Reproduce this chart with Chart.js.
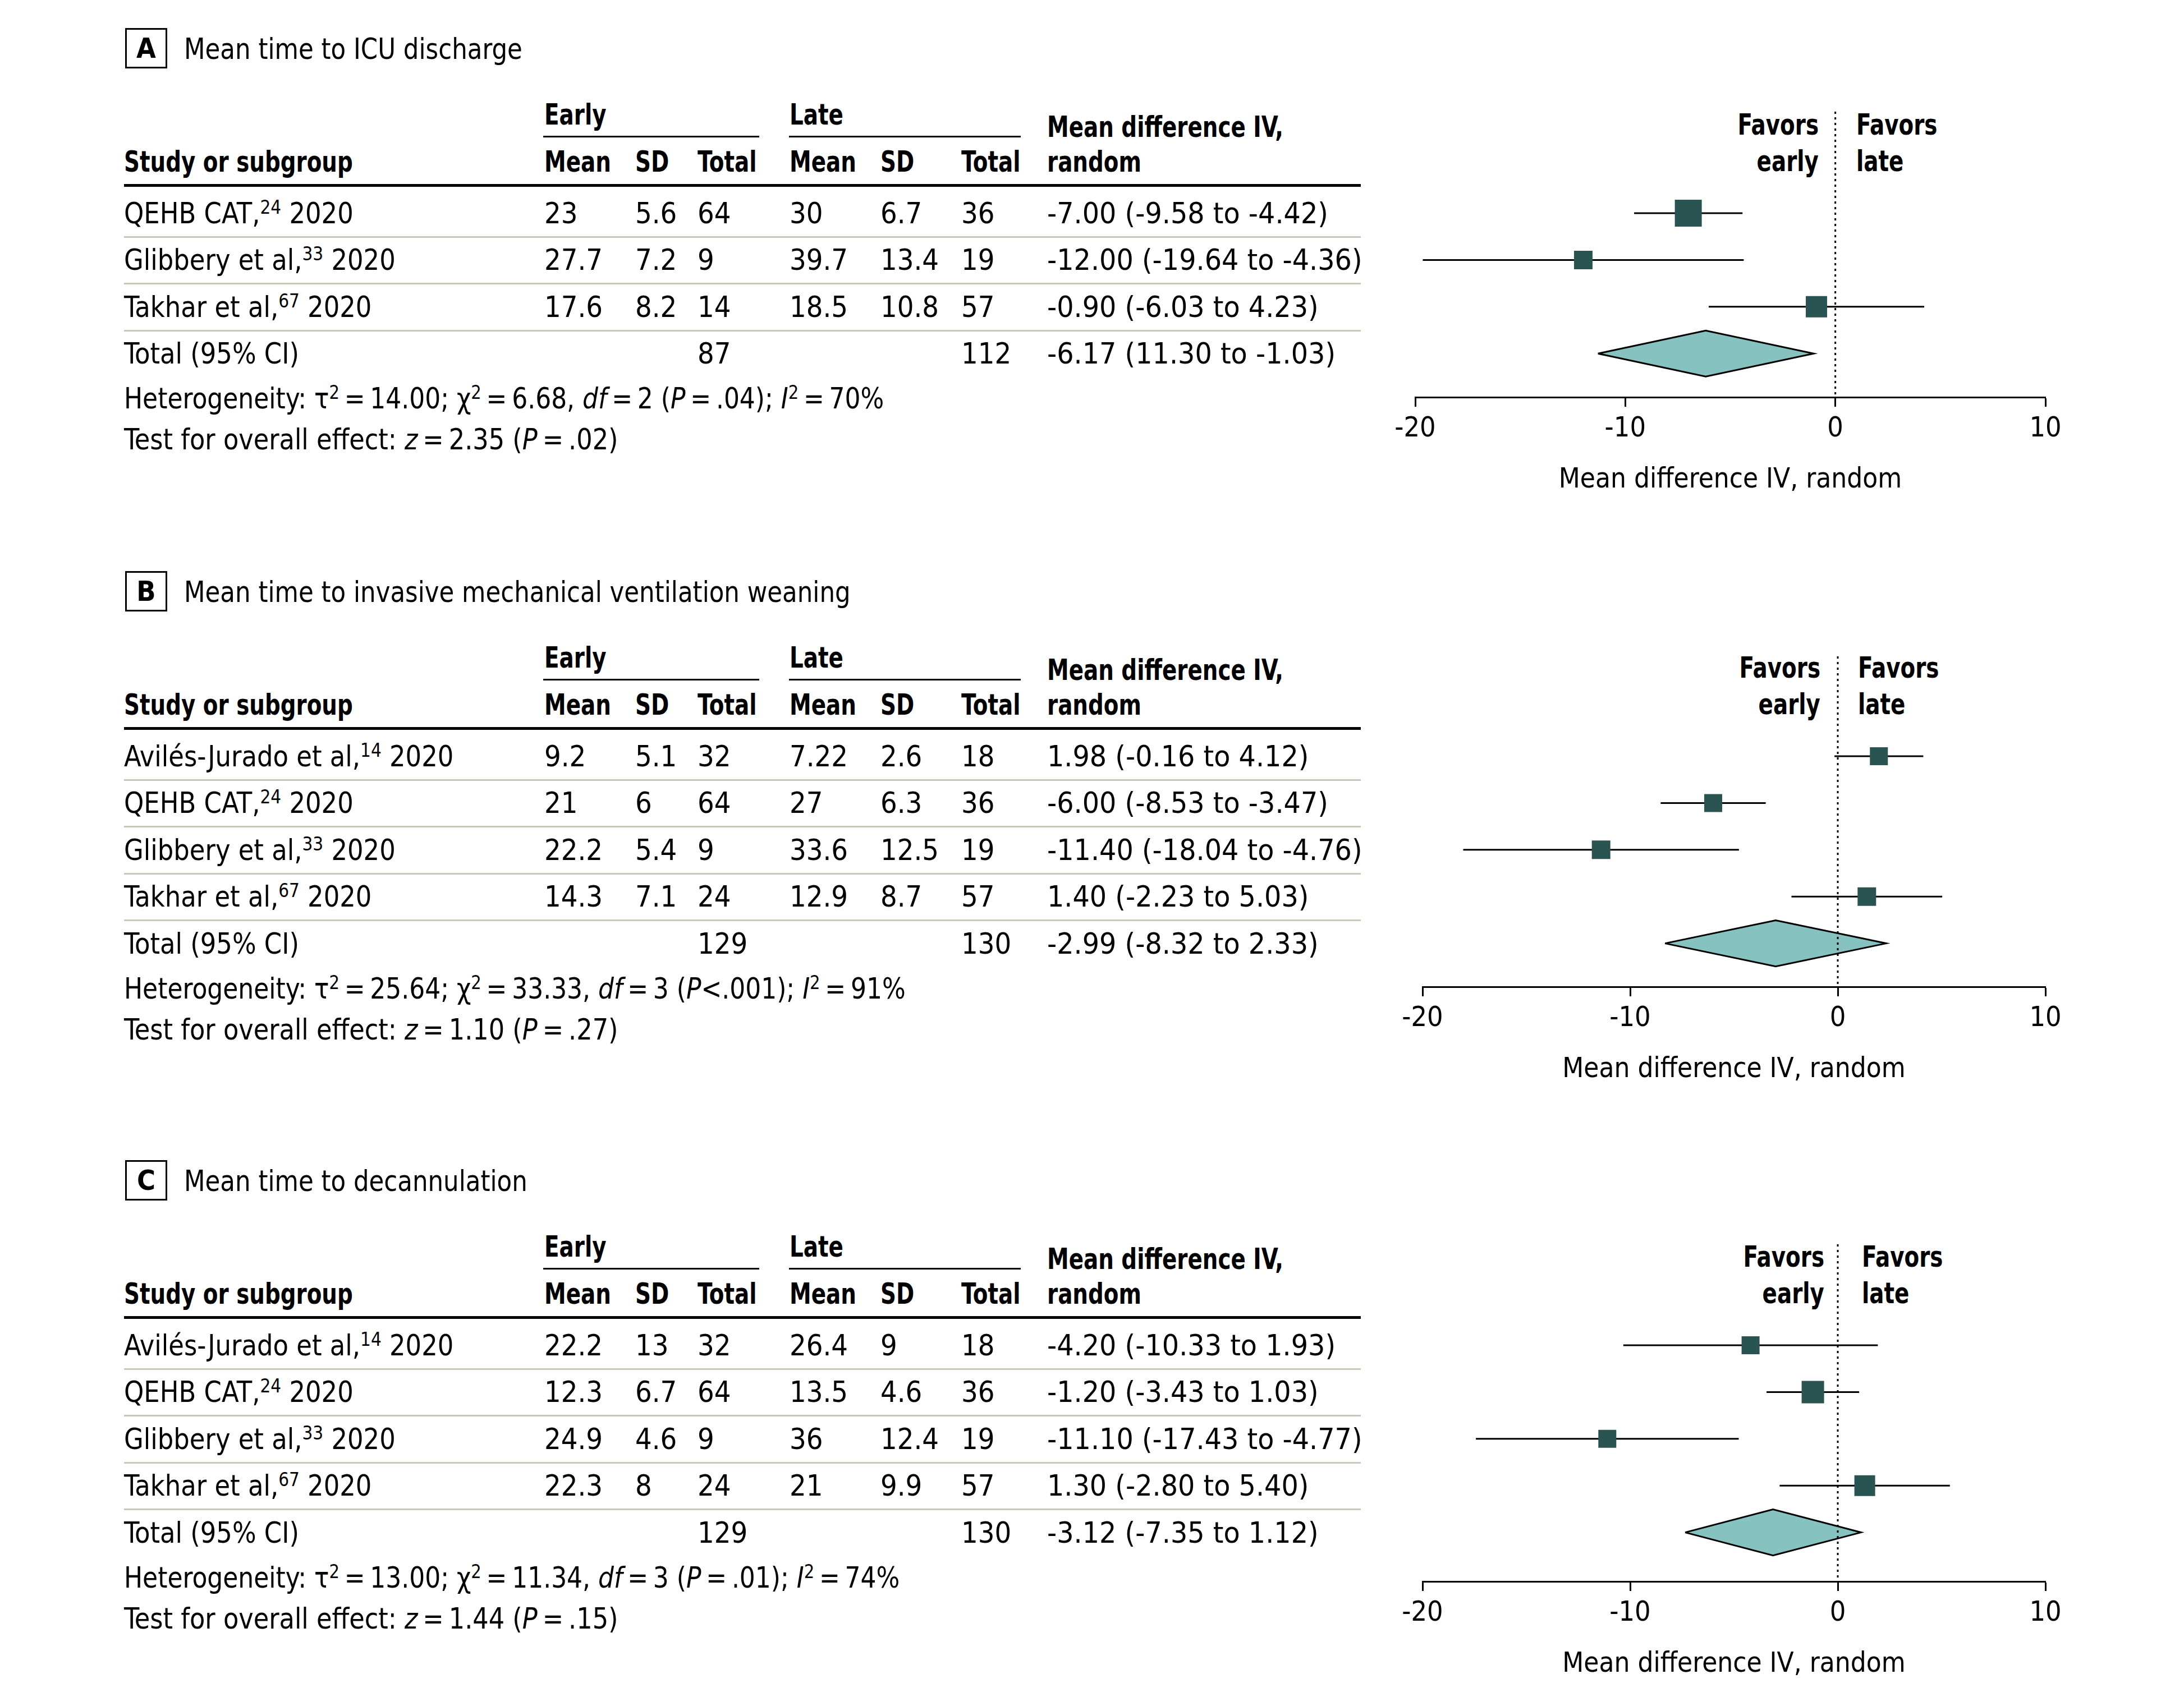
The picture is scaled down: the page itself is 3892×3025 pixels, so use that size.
<!DOCTYPE html>
<html><head><meta charset="utf-8">
<script src="https://cdn.jsdelivr.net/npm/chart.js@4.4.1/dist/chart.umd.min.js"></script>
<style>
html,body{margin:0;padding:0;background:#fff;}
#page{position:relative;width:3892px;height:3025px;background:#fff;overflow:hidden;font-family:"Liberation Sans Narrow","Arial Narrow","DejaVu Sans Condensed",sans-serif;color:#000;}
.t{position:absolute;white-space:nowrap;font-size:52px;line-height:52px;transform-origin:0 50%;}
.t.r{transform-origin:100% 50%;}
.b{font-weight:bold;}
.t sup{font-size:0.66em;vertical-align:0.5em;line-height:0;}
.rule{position:absolute;background:#000;}
.sep{position:absolute;background:#c8cab9;}
.box{position:absolute;border:3px solid #000;box-sizing:border-box;font-weight:bold;font-size:50px;text-align:center;}
canvas{position:absolute;}
</style></head><body><div id="page"></div>
<script>
// ---------------- DATA ----------------
const panelLetters = ['A', 'B', 'C'];
const panelTitles = ['Mean time to ICU discharge', 'Mean time to invasive mechanical ventilation weaning', 'Mean time to decannulation'];
const axisTitle = 'Mean difference IV, random';
const xTicks = [-20, -10, 0, 10];

// Panel A
const studiesA = ['QEHB CAT', 'Glibbery et al', 'Takhar et al'];
const refsA = ['24', '33', '67'];
const yearsA = ['2020', '2020', '2020'];
const earlyMeanA = ['23', '27.7', '17.6'];
const earlySDA = ['5.6', '7.2', '8.2'];
const earlyNA = ['64', '9', '14'];
const lateMeanA = ['30', '39.7', '18.5'];
const lateSDA = ['6.7', '13.4', '10.8'];
const lateNA = ['36', '19', '57'];
const mdA = [-7.00, -12.00, -0.90];
const loA = [-9.58, -19.64, -6.03];
const hiA = [-4.42, -4.36, 4.23];
const totalNA = ['87', '112'];
const totalA = [-6.17, -11.30, -1.03];
const totalLabelA = '-6.17 (11.30 to -1.03)';
const hetA = ['14.00', '6.68', '2', '= .04', '70%'];
const testA = ['2.35', '= .02'];

// Panel B
const studiesB = ['Avilés-Jurado et al', 'QEHB CAT', 'Glibbery et al', 'Takhar et al'];
const refsB = ['14', '24', '33', '67'];
const yearsB = ['2020', '2020', '2020', '2020'];
const earlyMeanB = ['9.2', '21', '22.2', '14.3'];
const earlySDB = ['5.1', '6', '5.4', '7.1'];
const earlyNB = ['32', '64', '9', '24'];
const lateMeanB = ['7.22', '27', '33.6', '12.9'];
const lateSDB = ['2.6', '6.3', '12.5', '8.7'];
const lateNB = ['18', '36', '19', '57'];
const mdB = [1.98, -6.00, -11.40, 1.40];
const loB = [-0.16, -8.53, -18.04, -2.23];
const hiB = [4.12, -3.47, -4.76, 5.03];
const totalNB = ['129', '130'];
const totalB = [-2.99, -8.32, 2.33];
const totalLabelB = '-2.99 (-8.32 to 2.33)';
const hetB = ['25.64', '33.33', '3', '<.001', '91%'];
const testB = ['1.10', '= .27'];

// Panel C
const studiesC = ['Avilés-Jurado et al', 'QEHB CAT', 'Glibbery et al', 'Takhar et al'];
const refsC = ['14', '24', '33', '67'];
const yearsC = ['2020', '2020', '2020', '2020'];
const earlyMeanC = ['22.2', '12.3', '24.9', '22.3'];
const earlySDC = ['13', '6.7', '4.6', '8'];
const earlyNC = ['32', '64', '9', '24'];
const lateMeanC = ['26.4', '13.5', '36', '21'];
const lateSDC = ['9', '4.6', '12.4', '9.9'];
const lateNC = ['18', '36', '19', '57'];
const mdC = [-4.20, -1.20, -11.10, 1.30];
const loC = [-10.33, -3.43, -17.43, -2.80];
const hiC = [1.93, 1.03, -4.77, 5.40];
const totalNC = ['129', '130'];
const totalC = [-3.12, -7.35, 1.12];
const totalLabelC = '-3.12 (-7.35 to 1.12)';
const hetC = ['13.00', '11.34', '3', '= .01', '74%'];
const testC = ['1.44', '= .15'];

// ---------------- STYLE / LAYOUT ----------------
const squareSideA = [48, 33, 38];
const squareSideB = [32, 32, 33, 33];
const squareSideC = [32, 40, 32, 37];
const panelOffsetY = [0, 968, 2018];
const plotX0 = [2522, 2535, 2535];
const plotX1 = [3645, 3645, 3645];
const plotTopRel = [199, 202, 200];
const plotBottomRel = [708, 791, 801];
const favorsEarlyRight = [3241, 3244, 3251];
const favorsLateLeft = [3308, 3311, 3318];
const ROW0 = 380, ROWH = 83.4;
const COLS = {study:221, eMean:970, eSD:1132, eN:1243, lMean:1407, lSD:1569, lN:1713, md:1866};
const SX = {title:0.93, study:0.96, num:1.0, md:1.02, het:0.94, test:0.955, bold:0.83};
const SQUARE_COLOR = '#2a5452';
const DIAMOND_COLOR = '#86c2c0';
const FONT = '"Liberation Sans Narrow","Arial Narrow","DejaVu Sans Condensed",sans-serif';

Chart.defaults.font.family = FONT;
Chart.defaults.color = '#000';

const page = document.getElementById('page');
function txt(x, cy, html, cls, align, sx) {
  const d = document.createElement('div');
  d.className = 't ' + (cls || '') + (align === 'right' ? ' r' : '');
  d.innerHTML = html;
  d.style.top = (cy - 26) + 'px';
  d.style.transform = 'scaleX(' + sx + ')';
  if (align === 'right') d.style.right = (3892 - x) + 'px'; else d.style.left = x + 'px';
  page.appendChild(d);
}
function rect(cls, x, y, w, h) {
  const d = document.createElement('div');
  d.className = cls;
  d.style.left = x + 'px'; d.style.top = y + 'px'; d.style.width = w + 'px'; d.style.height = h + 'px';
  page.appendChild(d);
}
const fmt = v => v.toFixed(2);
const TS = '\u2009';

const panels = [
  {studies:studiesA, refs:refsA, years:yearsA, eM:earlyMeanA, eS:earlySDA, eN:earlyNA, lM:lateMeanA, lS:lateSDA, lN:lateNA, md:mdA, lo:loA, hi:hiA, totN:totalNA, tot:totalA, totLabel:totalLabelA, het:hetA, test:testA, sides:squareSideA},
  {studies:studiesB, refs:refsB, years:yearsB, eM:earlyMeanB, eS:earlySDB, eN:earlyNB, lM:lateMeanB, lS:lateSDB, lN:lateNB, md:mdB, lo:loB, hi:hiB, totN:totalNB, tot:totalB, totLabel:totalLabelB, het:hetB, test:testB, sides:squareSideB},
  {studies:studiesC, refs:refsC, years:yearsC, eM:earlyMeanC, eS:earlySDC, eN:earlyNC, lM:lateMeanC, lS:lateSDC, lN:lateNC, md:mdC, lo:loC, hi:hiC, totN:totalNC, tot:totalC, totLabel:totalLabelC, het:hetC, test:testC, sides:squareSideC}
];

panels.forEach((P, p) => {
  const oy = panelOffsetY[p];
  const n = P.studies.length;
  const rowY = i => oy + ROW0 + ROWH * i;
  // title
  const bx = document.createElement('div');
  bx.className = 'box';
  bx.style.left = '223px'; bx.style.top = (oy + 50) + 'px'; bx.style.width = '75px'; bx.style.height = '72px';
  bx.style.lineHeight = '66px';
  bx.textContent = panelLetters[p];
  page.appendChild(bx);
  txt(328, oy + 87, panelTitles[p], '', 'left', SX.title);
  // header
  const hb = (x, y, s) => txt(x, y, s, 'b', 'left', SX.bold);
  hb(COLS.eMean, oy + 204, 'Early');
  hb(COLS.lMean, oy + 204, 'Late');
  rect('rule', 968, oy + 242, 385, 3);
  rect('rule', 1406, oy + 242, 413, 3);
  hb(COLS.md, oy + 226, 'Mean difference IV,');
  hb(COLS.md, oy + 288, 'random');
  hb(COLS.study, oy + 288, 'Study or subgroup');
  hb(COLS.eMean, oy + 288, 'Mean');
  hb(COLS.eSD, oy + 288, 'SD');
  hb(COLS.eN, oy + 288, 'Total');
  hb(COLS.lMean, oy + 288, 'Mean');
  hb(COLS.lSD, oy + 288, 'SD');
  hb(COLS.lN, oy + 288, 'Total');
  rect('rule', 221, oy + 328, 2204, 5);
  // rows
  const num = (x, y, s) => txt(x, y, s, '', 'left', SX.num);
  for (let i = 0; i < n; i++) {
    const y = rowY(i);
    txt(COLS.study, y, P.studies[i] + ',<sup>' + P.refs[i] + '</sup> ' + P.years[i], '', 'left', SX.study);
    num(COLS.eMean, y, P.eM[i]);
    num(COLS.eSD, y, P.eS[i]);
    num(COLS.eN, y, P.eN[i]);
    num(COLS.lMean, y, P.lM[i]);
    num(COLS.lSD, y, P.lS[i]);
    num(COLS.lN, y, P.lN[i]);
    txt(COLS.md, y, fmt(P.md[i]) + ' (' + fmt(P.lo[i]) + ' to ' + fmt(P.hi[i]) + ')', '', 'left', SX.md);
    rect('sep', 221, Math.round(y + 41), 2204, 3);
  }
  const ty = rowY(n);
  txt(COLS.study, ty, 'Total (95% CI)', '', 'left', SX.study);
  num(COLS.eN, ty, P.totN[0]);
  num(COLS.lN, ty, P.totN[1]);
  txt(COLS.md, ty, P.totLabel, '', 'left', SX.md);
  const pTxt = P.het[3].startsWith('<') ? '<i>P</i>' + P.het[3] : '<i>P</i>' + TS + P.het[3].replace('= ', '=' + TS);
  txt(COLS.study, ty + 80, 'Heterogeneity: τ<sup>2</sup>' + TS + '=' + TS + P.het[0] + '; χ<sup>2</sup>' + TS + '=' + TS + P.het[1] +
      ', <i>df</i>' + TS + '=' + TS + P.het[2] + ' (' + pTxt + '); <i>I</i><sup>2</sup>' + TS + '=' + TS + P.het[4], '', 'left', SX.het);
  txt(COLS.study, ty + 153, 'Test for overall effect: <i>z</i>' + TS + '=' + TS + P.test[0] + ' (<i>P</i>' + TS + P.test[1].replace('= ', '=' + TS) + ')', '', 'left', SX.test);
  // favors
  txt(favorsEarlyRight[p], oy + 222, 'Favors', 'b', 'right', SX.bold);
  txt(favorsEarlyRight[p], oy + 287, 'early', 'b', 'right', SX.bold);
  txt(favorsLateLeft[p], oy + 222, 'Favors', 'b', 'left', SX.bold);
  txt(favorsLateLeft[p], oy + 287, 'late', 'b', 'left', SX.bold);

  // forest chart
  const padL = 100, padR = 100, padT = 60, padB = 10, axisH = 178;
  const left = plotX0[p], right = plotX1[p], top = oy + plotTopRel[p], bottom = oy + plotBottomRel[p];
  const cv = document.createElement('canvas');
  cv.width = right - left + padL + padR;
  cv.height = bottom - top + padT + padB + axisH;
  const cvTop = top - padT;
  cv.style.left = (left - padL) + 'px';
  cv.style.top = cvTop + 'px';
  page.appendChild(cv);
  const row0 = oy + ROW0;
  const yMin = (top - row0) / ROWH, yMax = (bottom - row0) / ROWH;
  const dh = 41 / ROWH;
  const datasets = [];
  datasets.push({label:'zero', data:[{x:0, y:yMin}, {x:0, y:yMax}], borderColor:'#000', borderWidth:3, borderDash:[4, 6], borderCapStyle:'butt', pointRadius:0, fill:false, order:0});
  datasets.push({label:'est', data:P.md.map((v, i) => ({x:v, y:i})), showLine:false, pointStyle:'rect', pointRadius:P.sides.map(s => s / Math.SQRT2), pointBackgroundColor:SQUARE_COLOR, pointBorderColor:SQUARE_COLOR, pointBorderWidth:0, order:1, clip:false});
  P.md.forEach((v, i) => {
    datasets.push({label:'ci' + i, data:[{x:P.lo[i], y:i}, {x:P.hi[i], y:i}], borderColor:'#000', borderWidth:3, pointRadius:0, fill:false, order:2});
  });
  const [tm, tl, th] = P.tot;
  datasets.push({label:'total', data:[{x:tl, y:n}, {x:tm, y:n - dh}, {x:th, y:n}, {x:tm, y:n + dh}, {x:tl, y:n}], borderColor:'#000', borderWidth:3, backgroundColor:DIAMOND_COLOR, fill:'shape', pointRadius:0, tension:0, borderJoinStyle:'miter', order:3});

  const chart = new Chart(cv, {
    type:'line',
    data:{datasets},
    options:{
      responsive:false, animation:false, events:[],
      layout:{padding:{left:padL, right:padR, top:padT, bottom:padB}},
      plugins:{legend:{display:false}, tooltip:{enabled:false}, title:{display:false}},
      scales:{
        x:{type:'linear', min:-20, max:10, position:'bottom',
          afterBuildTicks:s => { s.ticks = xTicks.map(v => ({value:v})); },
          afterFit:s => { s.height = axisH; },
          grid:{drawOnChartArea:false, drawTicks:true, tickLength:17, tickWidth:3, tickColor:'#000'},
          border:{display:true, color:'#000', width:3},
          ticks:{font:{size:50, family:FONT}, color:'#000', padding:10, maxRotation:0, autoSkip:false},
          title:{display:true, text:axisTitle, font:{size:49, family:FONT}, color:'#000', padding:0}
        },
        y:{type:'linear', reverse:true, min:yMin, max:yMax, display:false}
      }
    }
  });
  // make the chart area top land exactly on the intended pixel
  for (let k = 0; k < 3; k++) {
    const diff = chart.chartArea.top - padT;
    if (Math.abs(diff) < 0.5) break;
    chart.options.layout.padding.top = chart.options.layout.padding.top - diff;
    chart.update();
  }
});
</script></body></html>
